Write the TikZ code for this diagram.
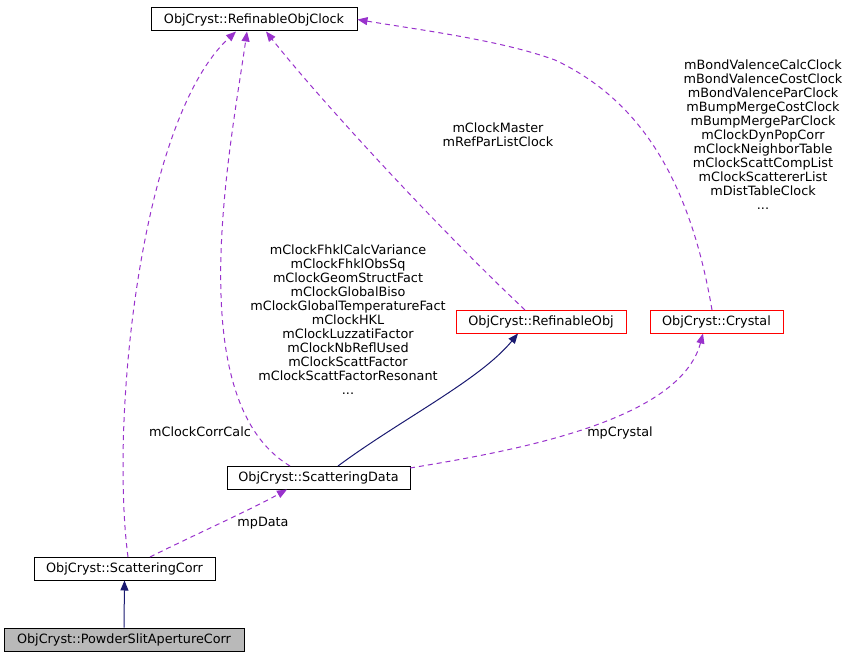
\documentclass[tikz,border=0pt]{standalone}
\usepackage{fontspec}
\setmainfont{DejaVu Sans}
\usetikzlibrary{arrows.meta}
\definecolor{navy}{RGB}{25,25,112}
\definecolor{purp}{RGB}{153,50,204}
\begin{document}
\begin{tikzpicture}[x=1pt,y=-1pt,line width=1pt,
  box/.style={draw=black,fill=white,minimum height=23pt,inner sep=0pt,font=\fontsize{12.8}{14}\selectfont,anchor=center},
  red/.style={box,draw=red},
  inh/.style={draw=navy,-{Triangle[length=10pt,width=8pt]}},
  use/.style={draw=purp,dash pattern=on 5pt off 4pt,-{Triangle[length=10pt,width=8pt]}},
  lab/.style={font=\fontsize{12.8}{14}\selectfont,align=center,inner sep=0pt,text depth=0pt}]
\useasboundingbox (0,0) rectangle (851,663);
\node[box,minimum width=206pt] (clock) at (254,19.5) {ObjCryst::RefinableObjClock};
\node[red,minimum width=170pt] (robj) at (541,321.5) {ObjCryst::RefinableObj};
\node[red,minimum width=133pt] (cry) at (716.5,321.5) {ObjCryst::Crystal};
\node[box,minimum width=183pt] (sd) at (318.5,477.5) {ObjCryst::ScatteringData};
\node[box,minimum width=181pt] (sc) at (124.5,568.5) {ObjCryst::ScatteringCorr};
\node[box,fill=gray!55,minimum width=240pt] (ps) at (124,639.5) {ObjCryst::PowderSlitApertureCorr};

\draw[inh] (ps.north) -- (sc.south);
\draw[inh] (338,466) .. controls (400,420) and (480,380) .. (robj.south -| 518,0);
\draw[use] (150,557) .. controls (190,537) and (250,510) .. (sd.south -| 287,0);
\draw[use] (410,468) .. controls (520,450) and (680,420) .. (cry.south -| 703,0);
\draw[use] (128,557) .. controls (110,420) and (140,120) .. (clock.south -| 236,0);
\draw[use] (290,466) .. controls (180,400) and (230,150) .. (clock.south -| 247,0);
\draw[use] (525,310) .. controls (440,230) and (320,100) .. (clock.south -| 266,0);
\draw[use] (712,310) .. controls (690,180) and (640,100) .. (555,60) .. controls (500,40) and (420,30) .. (clock.east);

\node[lab] (l1) at (200,432) {mClockCorrCalc};
\node[lab] (l2) at (263,522) {mpData};
\node[lab] (l3) at (620,432) {mpCrystal};
\node[lab] (l4) at (498,135) {mClockMaster\\mRefParListClock};
\node[lab] (l5) at (348,320) {mClockFhklCalcVariance\\mClockFhklObsSq\\mClockGeomStructFact\\mClockGlobalBiso\\mClockGlobalTemperatureFact\\mClockHKL\\mClockLuzzatiFactor\\mClockNbReflUsed\\mClockScattFactor\\mClockScattFactorResonant\\...};
\node[lab] (l6) at (763,135) {mBondValenceCalcClock\\mBondValenceCostClock\\mBondValenceParClock\\mBumpMergeCostClock\\mBumpMergeParClock\\mClockDynPopCorr\\mClockNeighborTable\\mClockScattCompList\\mClockScattererList\\mDistTableClock\\...};
\end{tikzpicture}
\end{document}
